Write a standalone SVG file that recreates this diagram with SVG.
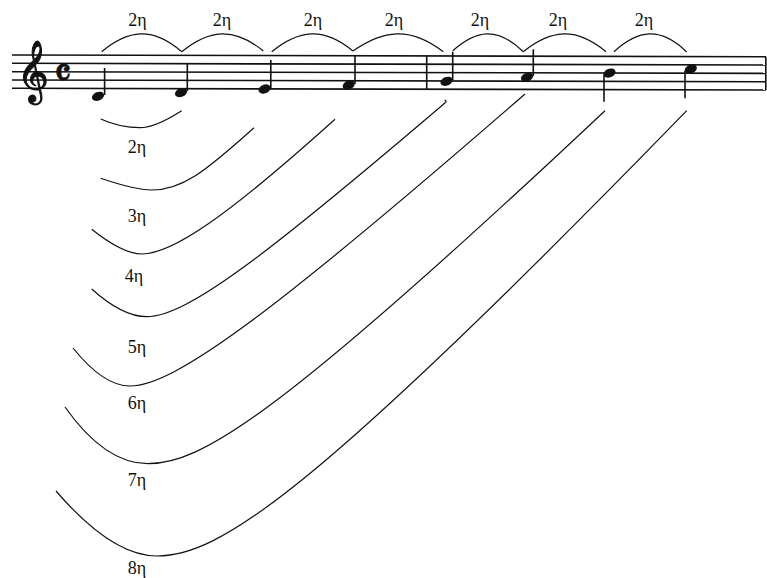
<svg xmlns="http://www.w3.org/2000/svg" width="767" height="578" viewBox="0 0 767 578">
<style>
.staff{stroke:#111;stroke-width:1.6;fill:none}
.stem{stroke:#111;stroke-width:1.6;fill:none}
.head{fill:#111}
.arc{stroke:#111;stroke-width:1.2;fill:none}
.lbl{font-family:'Liberation Serif',serif;font-size:18px;fill:#111;text-anchor:middle}
.sym{font-family:'DejaVu Sans',sans-serif;fill:#111;stroke:#111}
</style>
<rect width="767" height="578" fill="#fff"/>
<g id="staff">
<line class="staff" x1="12" y1="55" x2="766" y2="56.7"/>
<line class="staff" x1="12" y1="63.3" x2="766" y2="65"/>
<line class="staff" x1="12" y1="71.7" x2="766" y2="73.4"/>
<line class="staff" x1="12" y1="80" x2="766" y2="81.7"/>
<line class="staff" x1="12" y1="88.3" x2="766" y2="90"/>
<line class="staff" x1="426.7" y1="55.9" x2="426.7" y2="89.3"/>
<line class="staff" x1="765.8" y1="56.7" x2="765.8" y2="90"/>
<text id="clef" class="sym" x="17" y="89" font-size="54" stroke-width="1">𝄞</text>
<text id="time" class="sym" x="54" y="86.5" font-size="39" stroke-width="0.8">𝄴</text>
</g>
<g id="notes">
<g id="n1"><ellipse class="head" cx="98" cy="96.3" rx="6.3" ry="4.3" transform="rotate(-22 98 96.3)"/><line class="stem" x1="104.6" y1="95" x2="104.6" y2="68"/></g>
<g id="n2"><ellipse class="head" cx="181" cy="92.6" rx="6.3" ry="4.3" transform="rotate(-22 181 92.6)"/><line class="stem" x1="187.3" y1="91" x2="187.3" y2="63"/></g>
<g id="n3"><ellipse class="head" cx="264.5" cy="89" rx="6.3" ry="4.3" transform="rotate(-22 264.5 89)"/><line class="stem" x1="270.8" y1="88" x2="270.8" y2="60"/></g>
<g id="n4"><ellipse class="head" cx="348.7" cy="85.1" rx="6.3" ry="4.3" transform="rotate(-22 348.7 85.1)"/><line class="stem" x1="355" y1="84" x2="355" y2="56"/></g>
<g id="n5"><ellipse class="head" cx="446.5" cy="81.3" rx="6.3" ry="4.3" transform="rotate(-22 446.5 81.3)"/><line class="stem" x1="452.7" y1="80" x2="452.7" y2="51.7"/></g>
<g id="n6"><ellipse class="head" cx="527" cy="77.2" rx="6.3" ry="4.3" transform="rotate(-22 527 77.2)"/><line class="stem" x1="533.3" y1="76" x2="533.3" y2="49.3"/></g>
<g id="n7"><ellipse class="head" cx="609.5" cy="73.1" rx="6.3" ry="4.3" transform="rotate(-22 609.5 73.1)"/><line class="stem" x1="604" y1="74.5" x2="604" y2="101.7"/></g>
<g id="n8"><ellipse class="head" cx="690.8" cy="69" rx="6.3" ry="4.3" transform="rotate(-22 690.8 69)"/><line class="stem" x1="685" y1="70.5" x2="685" y2="98.3"/></g>
</g>
<g id="connectors">
<path class="arc" d="M101.7,51.7 C128,30 152,26 181.7,51.7"/>
<path class="arc" d="M181.7,51.7 C208.6,30 233,26 263.3,51"/>
<path class="arc" d="M271.7,51.7 C298.5,30 323,26 353,51"/>
<path class="arc" d="M353,51 C383,30 410,26 443.3,51.7"/>
<path class="arc" d="M452.7,50.7 C476,30 497,26 523.3,51.7"/>
<path class="arc" d="M523.3,51.7 C550.6,30 575,26 606,51.7"/>
<path class="arc" d="M614,51.7 C638,30 660,26 686.7,52"/>
<path class="arc" d="M100.7,119 Q120,127.7 140,127.7 Q155,127.7 181.7,110.7"/>
<path class="arc" d="M100.7,178.3 Q135,190 151.7,190 C181.7,190 204,172.7 254,127.7"/>
<path class="arc" d="M91.7,229.3 Q122.7,254 141.7,254 C171.7,254 225,218.3 335,119.3"/>
<path class="arc" d="M91.7,289 Q122.5,316.7 146.7,316.7 C186.7,316.7 266,255.7 445.5,102.5 Q447,100.5 444.5,100"/>
<path class="arc" d="M73,348 Q103.4,386 130,386 C175,386 275,311.5 525,94"/>
<path class="arc" d="M65,407 Q105,463.7 148,463.7 C200,463.7 275,420.9 605,110.7"/>
<path class="arc" d="M56,491 Q112,556 157,556 C217,556 306.7,501.7 686.7,110.7"/>
</g>
<g id="labels" font-family="Liberation Serif, serif">
<text class="lbl" x="137.5" y="26">2η</text>
<text class="lbl" x="222" y="26">2η</text>
<text class="lbl" x="313" y="26">2η</text>
<text class="lbl" x="394" y="26">2η</text>
<text class="lbl" x="480" y="26">2η</text>
<text class="lbl" x="558" y="26">2η</text>
<text class="lbl" x="644" y="26">2η</text>
<text class="lbl" x="137" y="153">2η</text>
<text class="lbl" x="137" y="222">3η</text>
<text class="lbl" x="134" y="282">4η</text>
<text class="lbl" x="137" y="352.5">5η</text>
<text class="lbl" x="137" y="409">6η</text>
<text class="lbl" x="137" y="486">7η</text>
<text class="lbl" x="137" y="574">8η</text>
</g>
</svg>
